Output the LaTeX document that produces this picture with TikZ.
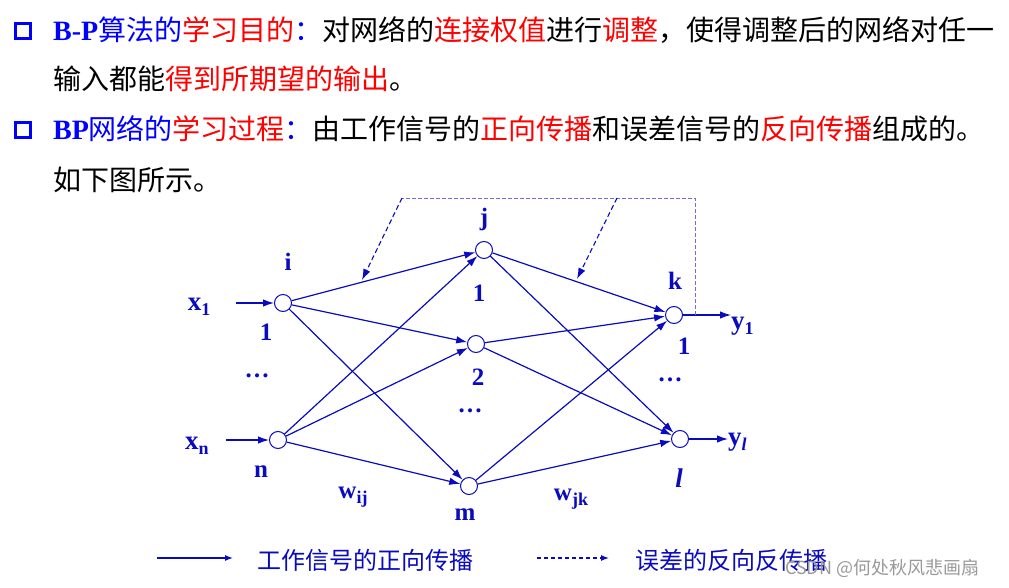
\documentclass[tikz,border=0pt]{standalone}
\usepackage{fontspec}
\setmainfont{Liberation Serif}
\newfontfamily\cjk{Noto Sans CJK SC}
\usetikzlibrary{arrows.meta}
\definecolor{txtblue}{RGB}{0,0,255}
\definecolor{txtred}{RGB}{255,0,0}
\definecolor{netblue}{RGB}{10,10,190}
\definecolor{fbblue}{RGB}{110,110,225}
\newcommand\lowidx[1]{\raisebox{-0.45ex}{\fontsize{18}{18}\selectfont #1}}
\begin{document}
\begin{tikzpicture}[x=1pt,y=-1pt,
    neuron/.style={circle,draw=netblue,line width=1pt,fill=white,minimum size=17pt,inner sep=0},
    lab/.style={text=netblue,font=\fontsize{25}{25}\selectfont\bfseries,inner sep=0},
    biglab/.style={lab,font=\fontsize{27}{27}\selectfont\bfseries},
    line/.style={text=black,font=\cjk\fontsize{28}{28}\selectfont,anchor=base west,inner sep=0},
    bullet/.style={draw=txtblue,line width=3.5pt,minimum size=15pt,inner sep=0},
    edge/.style={netblue,line width=1.2pt,-{Latex[length=11pt,width=7.5pt]}},
    back/.style={netblue,line width=1.1pt,dash pattern=on 5pt off 3pt,-{Latex[length=11pt,width=7.5pt]}},
    legtxt/.style={text=netblue,font=\cjk\fontsize{24}{24}\selectfont,anchor=west,inner sep=0}]
\useasboundingbox (0,0) rectangle (1009,588);

\node[bullet] (b1) at (23,31) {};
\node[bullet] (b2) at (23,130) {};
\node[line] (t1) at (53,41) {\color{txtblue}{\fontspec{Liberation Serif}\bfseries B-P}算法的\color{txtred}学习目的\color{txtblue}：\color{black}对网络的\color{txtred}连接权值\color{black}进行\color{txtred}调整\color{black}，使得调整后的网络对任一};
\node[line] (t2) at (53,90) {输入都能\color{txtred}得到所期望的输出\color{black}。};
\node[line] (t3) at (53,140) {\color{txtblue}{\fontspec{Liberation Serif}\bfseries BP}网络的\color{txtred}学习过程\color{txtblue}：\color{black}由工作信号的\color{txtred}正向传播\color{black}和误差信号的\color{txtred}反向传播\color{black}组成的。};
\node[line] (t4) at (53,191) {如下图所示。};

\node[neuron] (i) at (283,303) {};
\node[neuron] (n) at (278,440) {};
\node[neuron] (j) at (484,250) {};
\node[neuron] (h2) at (476,344) {};
\node[neuron] (m) at (469,486) {};
\node[neuron] (k) at (674,315) {};
\node[neuron] (l) at (680,439) {};

\node[lab] (li) at (288,262) {i};
\node[biglab] (x1) at (199,307) {x\lowidx{1}};
\node[lab] (li1) at (266,332) {1};
\node[lab] (ldi) at (257,376) {…};
\node[biglab] (xn) at (197,446) {x\lowidx{n}};
\node[lab] (ln) at (261,472) {n};
\node[lab] (wij) at (353,497) {w\lowidx{ij}};
\node[lab] (lj) at (484,219) {j};
\node[lab] (lj1) at (479,293) {1};
\node[lab] (lj2) at (478,377) {2};
\node[lab] (ldj) at (470,411) {…};
\node[lab] (lm) at (465,515) {m};
\node[lab] (wjk) at (571,499) {w\lowidx{jk}};
\node[lab] (lk) at (675,281) {k};
\node[lab] (lk1) at (684,346) {1};
\node[lab] (ldk) at (670,380) {…};
\node[biglab] (ll) at (679,478) {\textit{l}};
\node[biglab,anchor=west] (y1) at (731,326) {y\lowidx{1}};
\node[biglab,anchor=west] (yl) at (728,442) {y\lowidx{\textit{l}}};

\coordinate (in1) at (236,303);
\coordinate (inn) at (226,440);
\draw[edge] (in1) -- (i);
\draw[edge] (inn) -- (n);
\draw[edge] (k) -- (k -| y1.west);
\draw[edge] (l) -- (l -| yl.west);

\foreach \a in {i,n}
  \foreach \b in {j,h2,m}
    \draw[edge] (\a) -- (\b);
\foreach \a in {j,h2,m}
  \foreach \b in {k,l}
    \draw[edge] (\a) -- (\b);

\coordinate (fbR) at (695,315);
\coordinate (fbTR) at (695,198);
\coordinate (fbTL) at (402,198);
\coordinate (fbM) at (617,198);
\coordinate (tip1) at (362,280);
\coordinate (tip2) at (577,279);
\draw[fbblue,line width=0.8pt,dash pattern=on 4pt off 2pt] (fbR) -- (fbTR) -- (fbTL);
\draw[back] (fbTL) -- (tip1);
\draw[back] (fbM) -- (tip2);

\coordinate (lg1a) at (157,558);
\coordinate (lg1b) at (233,558);
\coordinate (lg2a) at (537,558);
\coordinate (lg2b) at (609,558);
\draw[netblue,line width=1.2pt,-{Latex[length=8pt,width=6pt]}] (lg1a) -- (lg1b);
\draw[netblue,line width=1.1pt,dash pattern=on 4pt off 3pt,-{Latex[length=8pt,width=6pt]}] (lg2a) -- (lg2b);
\node[legtxt] (lt1) at (257,560) {工作信号的正向传播};
\node[legtxt] (lt2) at (635,560) {误差的反向反传播};
\node[text=black!40,font=\cjk\fontsize{18}{18}\selectfont,anchor=west,inner sep=0] (wm) at (785,568) {CSDN @何处秋风悲画扇};
\end{tikzpicture}
\end{document}
